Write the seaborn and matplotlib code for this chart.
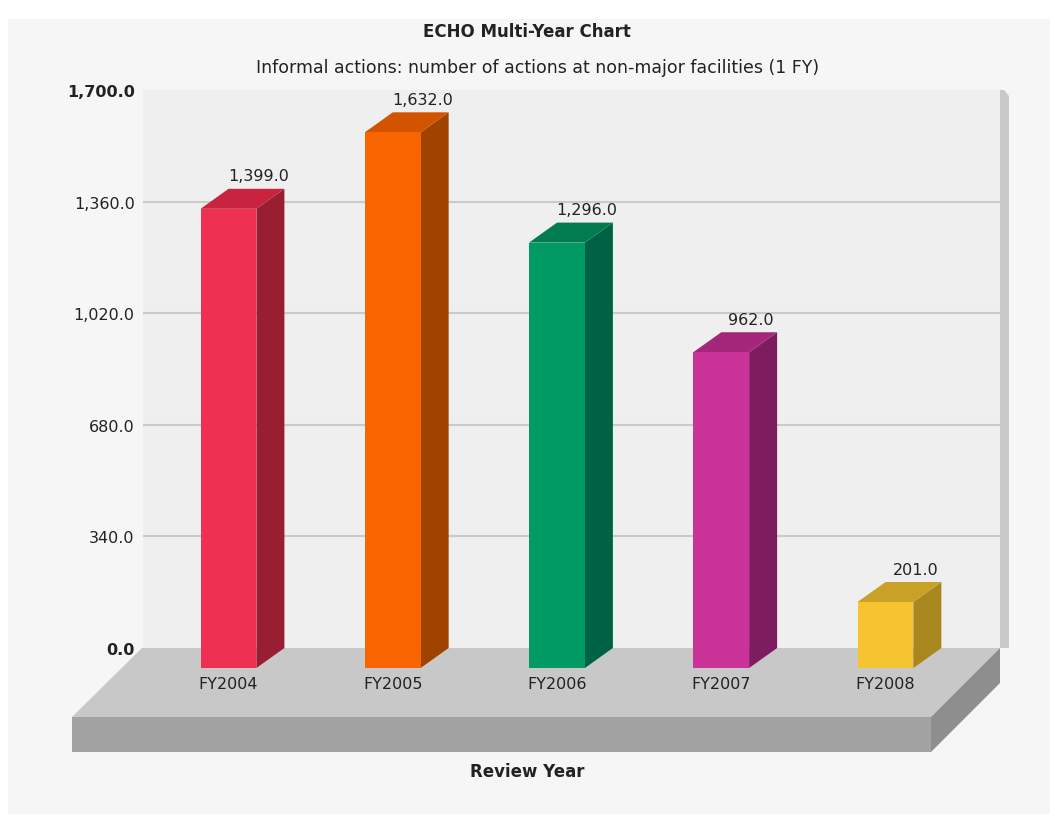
import matplotlib.pyplot as plt
import seaborn as sns
from matplotlib.patches import Polygon, Rectangle
from matplotlib.transforms import ScaledTranslation

years = ["FY2004", "FY2005", "FY2006", "FY2007", "FY2008"]
actions = [1399, 1632, 1296, 962, 201]
front_colors = ["#ee3052", "#f86400", "#009a62", "#cc3399", "#f6c42e"]
side_colors = ["#9a1e32", "#a04300", "#006244", "#7e1c60", "#a8871e"]
top_colors = ["#c8243f", "#d25400", "#007c50", "#a3287c", "#caa127"]
y_ticks = [0, 340, 680, 1020, 1360, 1700]

W, H = 1055, 820
DX, DY = 28, 20  # depth of the fake 3d, pixels

sns.set_style("white")
plt.rcParams["font.family"] = ["DejaVu Sans"]

fig = plt.figure(figsize=(W / 100, H / 100), dpi=100, facecolor="white")

def px(x, y):
    # image pixel (top-left origin) -> display coords
    return (x, H - y)

# outer light panel
fig.patches.append(Rectangle((8 / W, 5 / H), 1042 / W, 795 / H, transform=fig.transFigure,
                             facecolor="#f6f6f6", edgecolor="none", zorder=-10))

ax = fig.add_axes([143 / W, (H - 649) / H, 857 / W, 558 / H])
ax.set_facecolor("#efefef")

sns.barplot(x=years, y=actions, hue=years, palette=front_colors, legend=False,
            width=0.34, saturation=1, ax=ax, zorder=3)
ax.set_ylim(0, 1700)
ax.set_xlim(-0.691, 4.527)

for v in y_ticks[1:-1]:
    ax.axhline(v, color="#cacaca", lw=1.5, zorder=0.5)

for s in ax.spines.values():
    s.set_visible(False)
ax.set_xticks([])
ax.set_yticks(y_ticks)
ax.set_yticklabels([f"{v:,.1f}" for v in y_ticks], fontsize=11.5, color="#222222")
for lab, v in zip(ax.get_yticklabels(), y_ticks):
    if v in (0, 1700):
        lab.set_fontweight("bold")
ax.tick_params(axis="y", length=0, pad=6)
ax.set_xlabel("")
ax.set_ylabel("")

# right edge of the back wall
ax.add_patch(Polygon([px(1000, 91), px(1004, 91), px(1009, 97), px(1009, 649), px(1000, 649)],
                     closed=True, transform=None, clip_on=False, facecolor="#c9c9c9",
                     edgecolor="none", zorder=0.6))

# floor
ax.add_patch(Polygon([px(142, 649), px(1000, 649), px(931, 718), px(72, 718)], closed=True,
                     transform=None, clip_on=False, facecolor="#c8c8c8", edgecolor="none", zorder=1))
ax.add_patch(Polygon([px(72, 718), px(931, 718), px(931, 753), px(72, 753)], closed=True,
                     transform=None, clip_on=False, facecolor="#a3a3a3", edgecolor="none", zorder=1))
ax.add_patch(Polygon([px(931, 718), px(1000, 649), px(1000, 684), px(931, 753)], closed=True,
                     transform=None, clip_on=False, facecolor="#8e8e8e", edgecolor="none", zorder=1))

fig.canvas.draw()
shift = ScaledTranslation(-DX / 100, -DY / 100, fig.dpi_scale_trans)
for i, p in enumerate(ax.patches[:len(years)]):
    x0, w, h = p.get_x(), p.get_width(), p.get_height()
    br = ax.transData.transform((x0 + w, 0))
    tl = ax.transData.transform((x0, h))
    tr = ax.transData.transform((x0 + w, h))
    f = lambda pt: (pt[0] - DX, pt[1] - DY)
    side = [f(tr), f(br), br, tr]
    top = [f(tl), f(tr), tr, tl]
    ax.add_patch(Polygon(side, closed=True, transform=None, clip_on=False,
                         facecolor=side_colors[i], edgecolor="none", zorder=2.5))
    ax.add_patch(Polygon(top, closed=True, transform=None, clip_on=False,
                         facecolor=top_colors[i], edgecolor="none", zorder=2.5))
    p.set_transform(ax.transData + shift)
    p.set_clip_on(False)
    p.set_edgecolor("none")

for i, v in enumerate(actions):
    ax.annotate(f"{v:,.1f}", xy=(i, v), xytext=(2, 13), textcoords="offset pixels",
                ha="center", va="center", fontsize=11.5, color="#222222", zorder=5)
    ax.annotate(years[i], xy=(i, 0), xytext=(-DX, -DY - 16), textcoords="offset pixels",
                ha="center", va="center", fontsize=11.5, color="#222222",
                annotation_clip=False, zorder=5)

fig.text(527 / W, (H - 32) / H, "ECHO Multi-Year Chart", ha="center", va="center",
         fontsize=12, fontweight="bold", color="#222222")
fig.text(538 / W, (H - 68) / H,
         "Informal actions: number of actions at non-major facilities (1 FY)",
         ha="center", va="center", fontsize=12.5, color="#222222")
fig.text(527 / W, (H - 772) / H, "Review Year", ha="center", va="center",
         fontsize=12, fontweight="bold", color="#222222")

fig.savefig("out.png", dpi=100)
